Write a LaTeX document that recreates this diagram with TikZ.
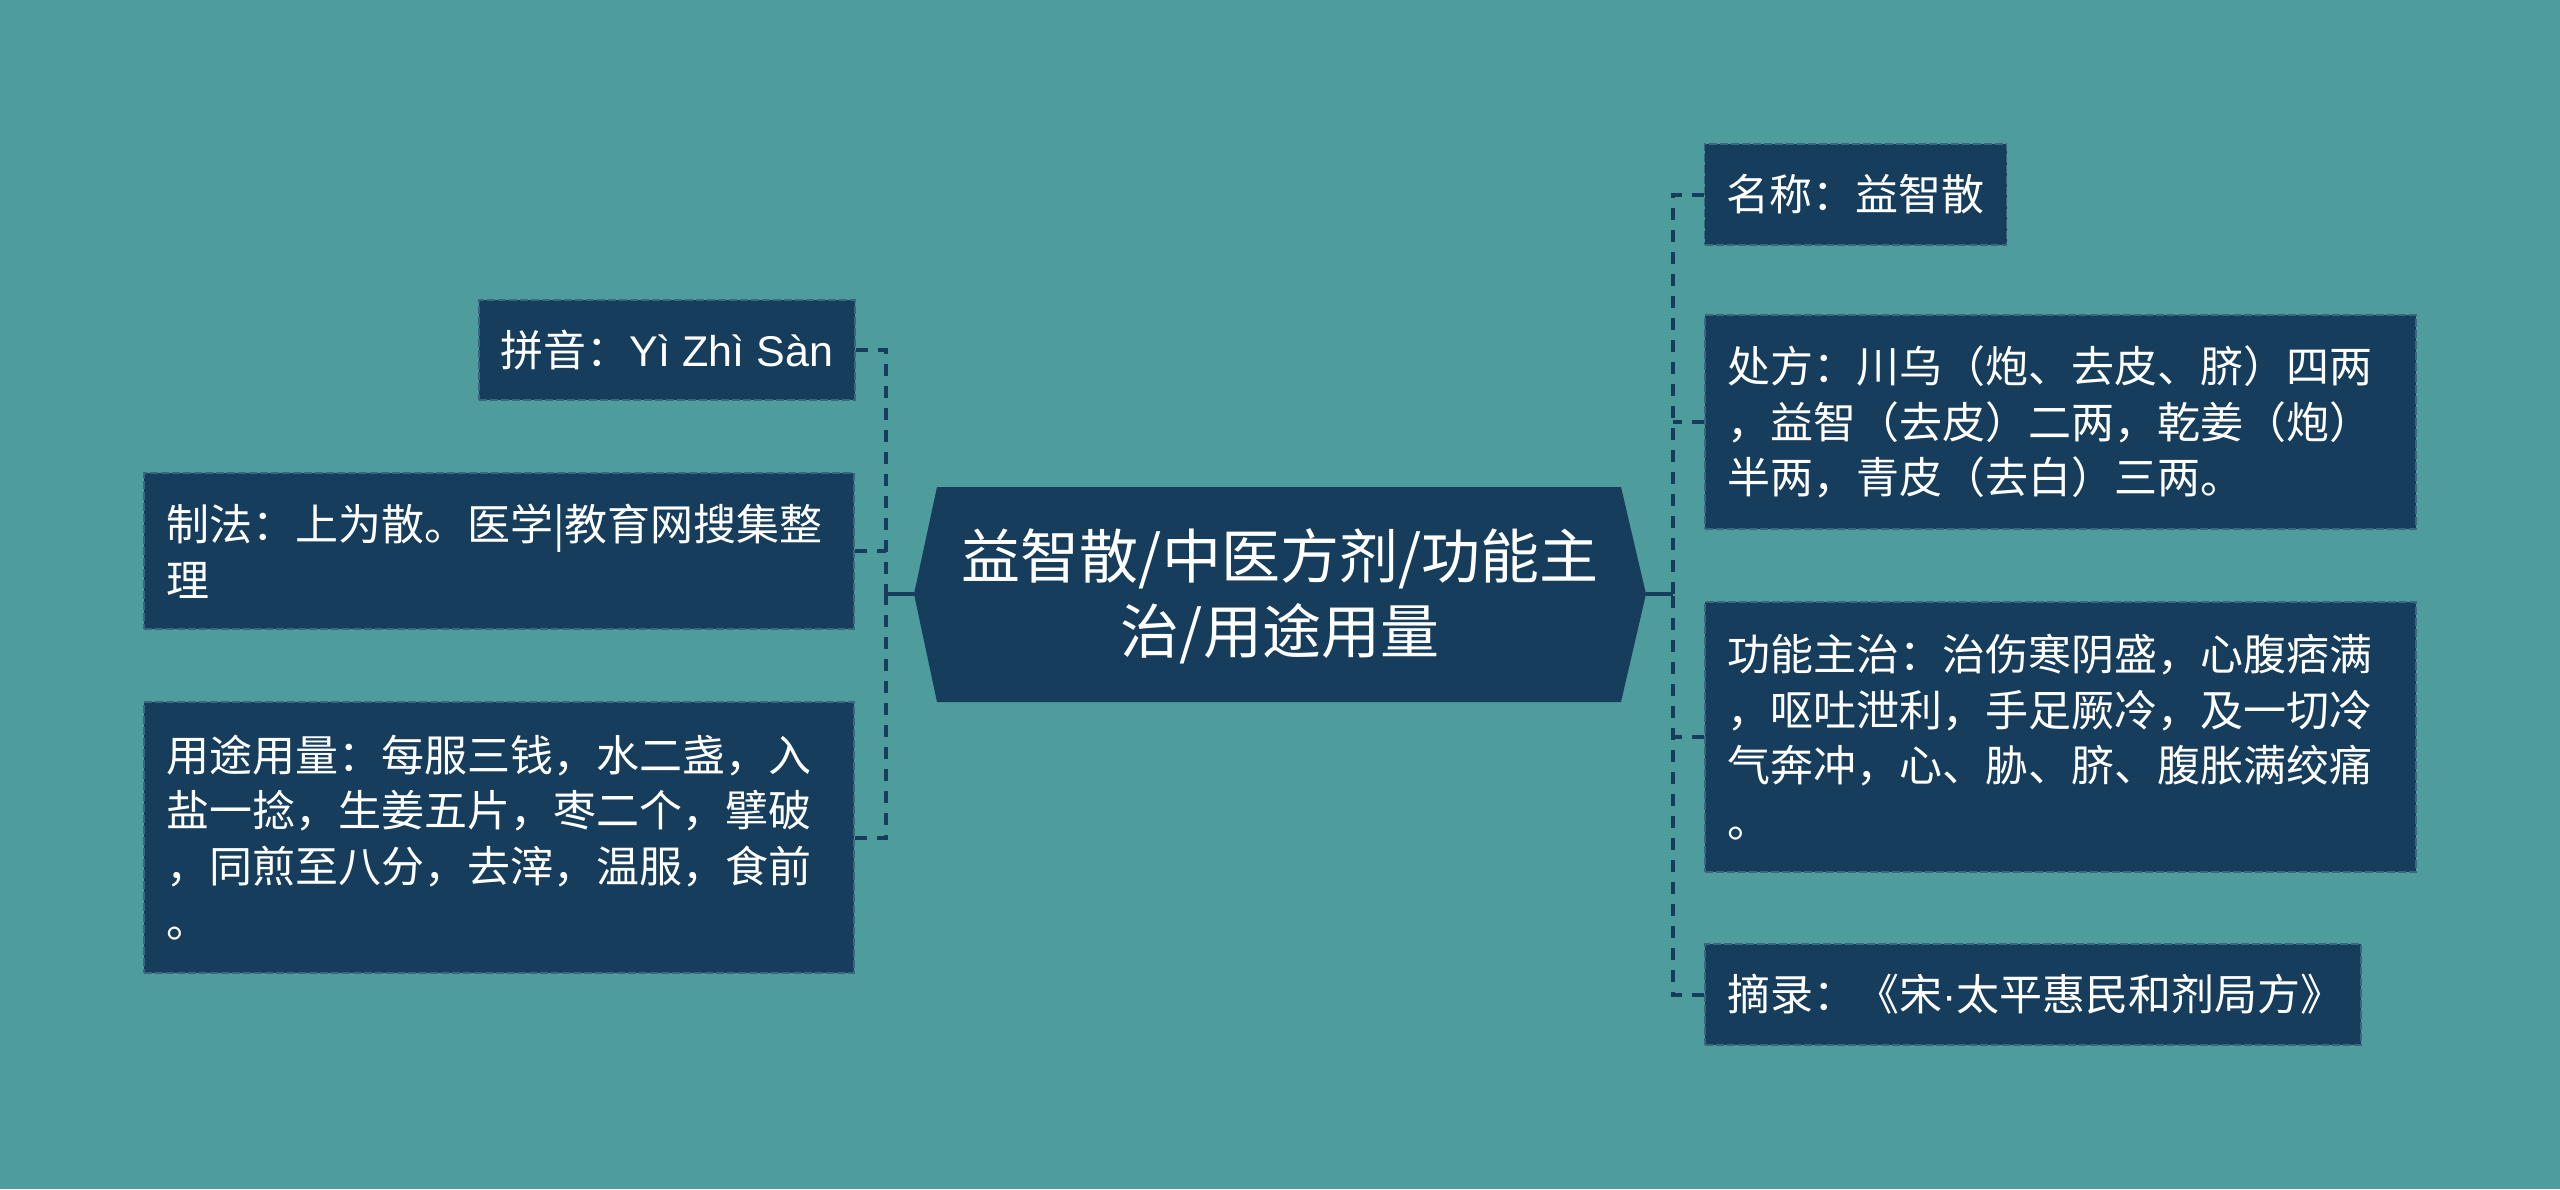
\documentclass[tikz,border=0pt]{standalone}
\usepackage{fontspec}
\setmainfont{Noto Sans CJK SC}
\newfontfamily\latinfont{Liberation Sans}
\definecolor{bgteal}{HTML}{4E9C9C}
\definecolor{navy}{HTML}{173D5C}
\definecolor{edgeblue}{HTML}{3A6680}
\begin{document}
\begin{tikzpicture}[x=0.5pt,y=-0.5pt,
  leaf/.style={rectangle, fill=navy, draw=edgeblue, line width=0.8pt,
    dash pattern=on 4pt off 1.5pt, text=white, align=left,
    font=\fontsize{21.5pt}{27.8pt}\selectfont, inner xsep=11pt, inner ysep=0pt},
  link/.style={draw=navy, line width=2pt, dash pattern=on 6pt off 5pt},
  stem/.style={draw=navy, line width=2pt}]
\fill[bgteal] (0,0) rectangle (2560,1189);
\useasboundingbox (0,0) rectangle (2560,1189);

% central hexagon
\fill[navy] (937,487) -- (1621,487) -- (1646,594) -- (1621,702) -- (937,702) -- (914,594) -- cycle;
\node[text=white, align=center, font=\fontsize{29.5pt}{37.5pt}\selectfont] (hub) at (1280,596)
  {益智散/中医方剂/功能主\\治/用途用量};
\coordinate (hubW) at (914,594);
\coordinate (hubE) at (1646,594);

% left nodes
\node[leaf, minimum width=187pt, minimum height=50pt] (l1) at (667,350)
  {拼音：{\latinfont Yì Zhì Sàn}};
\node[leaf, minimum width=355pt, minimum height=78pt, text width=333pt] (l2) at (499,551)
  {制法：上为散。医学|教育网搜集整\\理};
\node[leaf, minimum width=355pt, minimum height=135.5pt, text width=333pt] (l3) at (499,837.5)
  {用途用量：每服三钱，水二盏，入\\盐一捻，生姜五片，枣二个，擘破\\，同煎至八分，去滓，温服，食前\\。};

% right nodes
\node[leaf, minimum width=151pt, minimum height=50.5pt, text width=129pt] (r1) at (1855.5,194.5)
  {名称：益智散};
\node[leaf, minimum width=355.5pt, minimum height=107pt, text width=333.5pt] (r2) at (2060.5,422)
  {处方：川乌（炮、去皮、脐）四两\\，益智（去皮）二两，乾姜（炮）\\半两，青皮（去白）三两。};
\node[leaf, minimum width=355.5pt, minimum height=135pt, text width=333.5pt] (r3) at (2060.5,737)
  {功能主治：治伤寒阴盛，心腹痞满\\，呕吐泄利，手足厥冷，及一切冷\\气奔冲，心、胁、脐、腹胀满绞痛\\。};
\node[leaf, minimum width=328pt, minimum height=50.5pt, text width=306pt] (r4) at (2033,994.5)
  {摘录：《宋{\latinfont ·}太平惠民和剂局方》};

% spines
\coordinate (ls) at (886,594);
\coordinate (rs) at (1673,594);
\draw[stem] (hubW) -- (ls);
\draw[stem] (hubE) -- (rs);
\draw[link] (l1.east) -| (ls);
\draw[link] (l3.east) -| (ls);
\draw[link] (l2.east) -- (l2.east -| ls);
\draw[link] (r1.west) -| (rs);
\draw[link] (r4.west) -| (rs);
\draw[link] (r2.west) -- (r2.west -| rs);
\draw[link] (r3.west) -- (r3.west -| rs);
\end{tikzpicture}
\end{document}
